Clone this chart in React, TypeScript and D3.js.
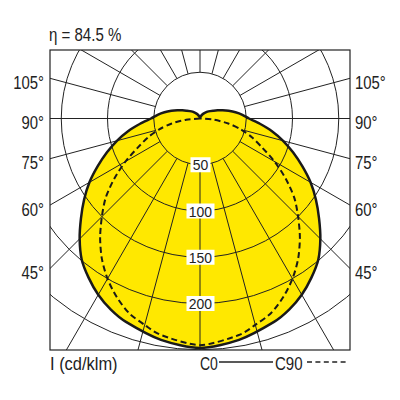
import React from "react";
import * as d3 from "d3";

// luminous intensity, cd/klm, angle from nadir in degrees
const c0Angles = [0, 10, 20, 25, 30, 35, 40, 45, 50, 55, 60, 65, 70, 75, 80, 85, 90, 95, 100, 105, 110, 115, 120, 130, 140, 150, 165, 180];
const c0Values = [248, 243, 234, 228, 220, 210, 199, 184, 168, 153, 138, 122, 107, 93, 79, 65, 53, 46, 39, 32, 26, 21, 17, 12, 8, 5, 2, 1];

const c90Angles = [0, 10, 15, 20, 25, 30, 35, 40, 45, 50, 55, 60, 65, 70, 75, 80, 85, 90];
const c90Values = [245, 238, 231, 224, 213, 200, 185, 168, 150, 133, 113, 93, 74, 60, 46, 31, 15, 0];

const ringValues = [50, 100, 150, 200, 250];
const ringLabels = [50, 100, 150, 200];
const angleLabels = [45, 60, 75, 90, 105];
const spokeAngles = d3.range(0, 360, 15);

const efficiency = "η = 84.5 %";
const unitLabel = "I (cd/klm)";

const FRAME = { x0: 50, y0: 50, x1: 350, y1: 350 };
const CX = 200;
const CY = 118.5;
const FONT = "'Liberation Sans', Arial, sans-serif";
const INK = "#222";

const rad = (deg: number) => (deg * Math.PI) / 180;

// condensed text: the original uses a narrow grotesque
const Narrow = ({ x, y, size, sx = 0.85, anchor = "start", children }: any) => (
  <text
    transform={`translate(${x},${y}) scale(${sx},1)`}
    fontSize={size}
    textAnchor={anchor}
    fill={INK}
  >
    {children}
  </text>
);

const App = () => {
  const r = d3.scaleLinear().domain([0, 250]).range([0, 231.25]);

  const radial = d3
    .lineRadial<[number, number]>()
    .angle((d) => Math.PI - rad(d[0]))
    .radius((d) => r(d[1]));

  // C0: full closed curve, symmetric
  const c0Pts: [number, number][] = c0Angles.map((a, i) => [a, c0Values[i]]);
  for (let i = c0Angles.length - 2; i > 0; i--) {
    c0Pts.push([360 - c0Angles[i], c0Values[i]]);
  }
  const c0Path = radial.curve(d3.curveCardinalClosed.tension(0.2))(c0Pts)!;

  // C90: from -90 to 90 through nadir
  const c90Pts: [number, number][] = [];
  for (let i = c90Angles.length - 1; i > 0; i--) c90Pts.push([-c90Angles[i], c90Values[i]]);
  c90Angles.forEach((a, i) => c90Pts.push([a, c90Values[i]]));
  const c90Path = radial.curve(d3.curveCardinal.tension(0.2))(c90Pts)!;

  const pt = (deg: number, radius: number) => [
    CX + radius * Math.sin(rad(deg)),
    CY + radius * Math.cos(rad(deg)),
  ];

  const sideY = (deg: number) => CY + (150 / Math.abs(Math.sin(rad(deg)))) * Math.cos(rad(deg));

  return (
    <svg
      width={400}
      height={400}
      style={{ position: "absolute", left: 0, top: 0, display: "block", background: "#fff" }}
      fontFamily={FONT}
    >
      <defs>
        <clipPath id="frame">
          <rect x={FRAME.x0} y={FRAME.y0} width={FRAME.x1 - FRAME.x0} height={FRAME.y1 - FRAME.y0} />
        </clipPath>
      </defs>

      <Narrow x={49} y={41} size={17.5} sx={0.86}>
        {efficiency}
      </Narrow>

      <g transform={`translate(${CX},${CY})`}>
        <path d={c0Path} fill="#ffe800" stroke="none" />
      </g>

      <g clipPath="url(#frame)" stroke={INK} strokeWidth={1} fill="none">
        {ringValues.map((v) => (
          <circle key={v} cx={CX} cy={CY} r={r(v)} />
        ))}
        {spokeAngles.map((a) => {
          const [x1, y1] = pt(a, r(50));
          const [x2, y2] = pt(a, 500);
          return <line key={a} x1={x1} y1={y1} x2={x2} y2={y2} />;
        })}
      </g>

      <rect
        x={FRAME.x0}
        y={FRAME.y0}
        width={FRAME.x1 - FRAME.x0}
        height={FRAME.y1 - FRAME.y0}
        fill="none"
        stroke={INK}
        strokeWidth={1.2}
      />

      <g transform={`translate(${CX},${CY})`} fill="none">
        <path d={c0Path} stroke="#1a1a1a" strokeWidth={2.5} />
        <path d={c90Path} stroke="#1a1a1a" strokeWidth={2} strokeDasharray="6 3.5" />
      </g>

      {ringLabels.map((v) => {
        const y = CY + r(v);
        const w = String(v).length * 8 + 4;
        return (
          <g key={v}>
            <rect x={CX - w / 2 + 0.5} y={y - 7.5} width={w} height={15} fill="#fff" />
            <Narrow x={CX + 0.5} y={y + 5.5} size={15.5} sx={0.9} anchor="middle">
              {v}
            </Narrow>
          </g>
        );
      })}

      {angleLabels.map((a) => {
        const y = sideY(a) + 10.5;
        return (
          <g key={a}>
            <Narrow x={44} y={y} size={17.5} anchor="end">
              {a}°
            </Narrow>
            <Narrow x={355} y={y} size={17.5}>
              {a}°
            </Narrow>
          </g>
        );
      })}

      <Narrow x={50} y={370} size={17.5} sx={0.94}>
        {unitLabel}
      </Narrow>
      <Narrow x={200} y={370} size={17.5} sx={0.8}>
        C0
      </Narrow>
      <line x1={219} x2={273} y1={362} y2={362} stroke={INK} strokeWidth={1.6} />
      <Narrow x={275} y={370} size={17.5} sx={0.86}>
        C90
      </Narrow>
      <line x1={307} x2={348} y1={362} y2={362} stroke={INK} strokeWidth={1.6} strokeDasharray="5 3.4" />
    </svg>
  );
};

export default App;
